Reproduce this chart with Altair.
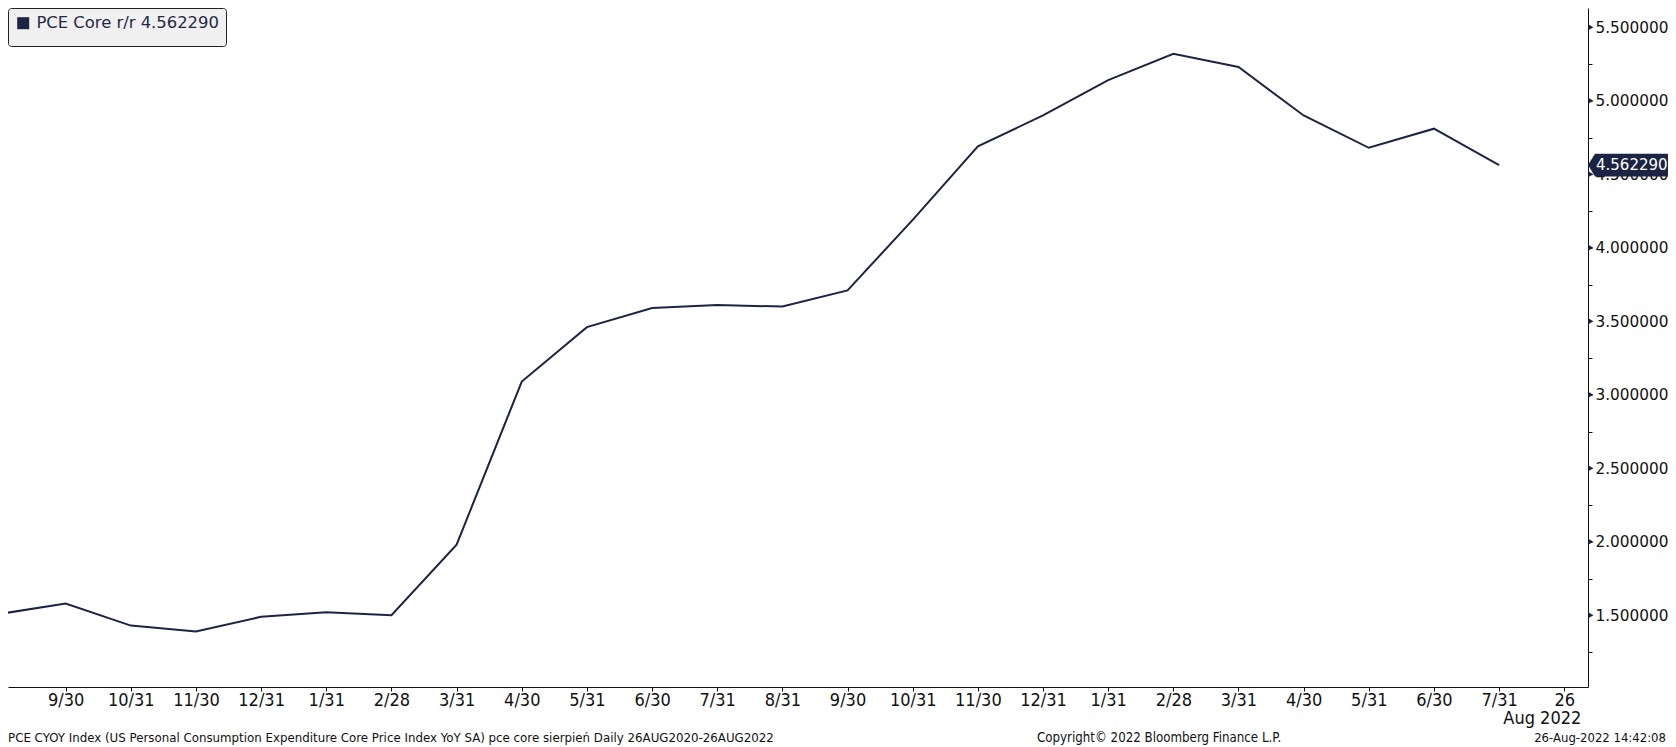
import altair as alt
import pandas as pd

# ---- data ----
obs_dates = ["8/31/2020", "9/30/2020", "10/31/2020", "11/30/2020", "12/31/2020",
             "1/31/2021", "2/28/2021", "3/31/2021", "4/30/2021", "5/31/2021",
             "6/30/2021", "7/31/2021", "8/31/2021", "9/30/2021", "10/31/2021",
             "11/30/2021", "12/31/2021", "1/31/2022", "2/28/2022", "3/31/2022",
             "4/30/2022", "5/31/2022", "6/30/2022", "7/31/2022"]
pce_core = [1.51, 1.58, 1.43, 1.39, 1.49, 1.52, 1.50, 1.98, 3.09, 3.46,
            3.59, 3.61, 3.60, 3.71, 4.19, 4.69, 4.90, 5.14, 5.32, 5.23,
            4.90, 4.68, 4.81, 4.56229]
tick_labels = ["", "9/30", "10/31", "11/30", "12/31", "1/31", "2/28", "3/31", "4/30",
               "5/31", "6/30", "7/31", "8/31", "9/30", "10/31", "11/30", "12/31",
               "1/31", "2/28", "3/31", "4/30", "5/31", "6/30", "7/31", "26"]
y_major = [1.5, 2.0, 2.5, 3.0, 3.5, 4.0, 4.5, 5.0, 5.5]
y_minor = [1.25, 1.75, 2.25, 2.75, 3.25, 3.75, 4.25, 4.75, 5.25]
series_name = "PCE Core r/r 4.562290"
last_label = "4.562290"
footer_left = "PCE CYOY Index (US Personal Consumption Expenditure Core Price Index YoY SA) pce core sierpień  Daily 26AUG2020-26AUG2022"
footer_mid = "Copyright\u00a9 2022 Bloomberg Finance L.P."
footer_right = "26-Aug-2022 14:42:08"

NAVY = "#1c2443"
INK = "#111111"
W, H = 1580, 679
X_DOM = [0.115, 24.364]
Y_DOM = [1.0122, 5.631]

df = pd.DataFrame({
    "idx": list(range(len(pce_core))),
    "date": obs_dates,
    "value": pce_core,
    "series": [series_name] * len(pce_core),
})
last = df.tail(1)
majors = pd.DataFrame({"value": y_major})

label_arr = "[" + ",".join("'" + t + "'" for t in tick_labels) + "]"
major_arr = "[" + ",".join(str(v) for v in y_major) + "]"

xscale = alt.Scale(domain=X_DOM, nice=False, zero=False)
yscale = alt.Scale(domain=Y_DOM, nice=False, zero=False)

x_axis = alt.Axis(
    values=list(range(1, len(tick_labels))),
    labelExpr=label_arr + "[datum.value]",
    title=None, grid=False, domainColor=INK, tickColor=INK, tickSize=4,
    labelFont="DejaVu Sans Condensed", labelFontSize=18, labelColor=INK,
    labelBaseline="alphabetic", labelPadding=14, labelOverlap=False,
    labelFlush=False,
)
y_axis = alt.Axis(
    orient="right", values=sorted(y_major + y_minor),
    labelExpr="indexof(" + major_arr + ", datum.value) >= 0 ? format(datum.value, '.6f') : ''",
    title=None, grid=False, domainColor=INK, tickColor=INK, tickSize=4,
    labelFont="DejaVu Sans", labelFontSize=15.3, labelColor=INK, labelPadding=3,
    labelOverlap=False, labelFlush=False, labelLimit=200,
)

Y = alt.Y("value:Q", scale=yscale, axis=y_axis)

line = alt.Chart(df).mark_line(strokeWidth=2, clip=True).encode(
    x=alt.X("idx:Q", scale=xscale, axis=x_axis),
    y=Y,
    color=alt.Color("series:N", scale=alt.Scale(range=[NAVY]),
                    legend=alt.Legend(
                        orient="top-left", title=None, offset=0,
                        symbolType="square", symbolSize=36, symbolStrokeWidth=6,
                        symbolFillColor=NAVY, symbolStrokeColor=NAVY,
                        labelFont="DejaVu Sans", labelFontSize=16.4, labelColor="#1f2a48",
                        labelLimit=400,
                        fillColor="#f0f0f0", strokeColor="#222222", cornerRadius=3,
                        padding=7, labelOffset=5,
                    )),
)

tri = alt.Chart(majors).mark_point(shape="triangle-right", filled=True, size=30,
                                   color=NAVY, opacity=1).encode(
    x=alt.datum(X_DOM[1]), y=Y, xOffset=alt.value(3)
)

box = alt.Chart(last).mark_point(
    shape="M0,0 L0.16,-0.26 L2,-0.26 L2,0.26 L0.16,0.26 Z",
    size=88 * 88, filled=True, color=NAVY, opacity=1, strokeWidth=0,
).encode(x=alt.datum(X_DOM[1]), y=Y)

box_txt = alt.Chart(last).mark_text(
    align="left", baseline="middle", dx=8, color="white",
    font="DejaVu Sans", fontSize=15,
).encode(x=alt.datum(X_DOM[1]), y=Y, text=alt.value(last_label))

aug = alt.Chart(last).mark_text(
    align="right", baseline="alphabetic", dx=17, color=INK,
    font="DejaVu Sans Condensed", fontSize=18,
).encode(x=alt.datum(24), y=alt.value(H + 37), text=alt.value("Aug 2022"))

foot_font = dict(color=INK, baseline="alphabetic")
f1 = alt.Chart(last).mark_text(align="left", font="DejaVu Sans Condensed", fontSize=13.15,
                               **foot_font).encode(
    x=alt.value(0), y=alt.value(H + 55), text=alt.value(footer_left))
f2 = alt.Chart(last).mark_text(align="left", font="DejaVu Sans Condensed", fontSize=13.2,
                               **foot_font).encode(
    x=alt.value(1029), y=alt.value(H + 55), text=alt.value(footer_mid))
f3 = alt.Chart(last).mark_text(align="right", font="DejaVu Sans", fontSize=11.7,
                               **foot_font).encode(
    x=alt.value(1658), y=alt.value(H + 55), text=alt.value(footer_right))

chart = alt.layer(line, tri, box, box_txt, aug, f1, f2, f3).properties(
    width=W, height=H, background="white",
    autosize=alt.AutoSizeParams(type="none"),
    padding={"left": 0, "top": 0, "right": 80, "bottom": 60},
).configure_view(stroke=None)

chart.save("out.html", embed_options={"renderer": "svg", "actions": False})
